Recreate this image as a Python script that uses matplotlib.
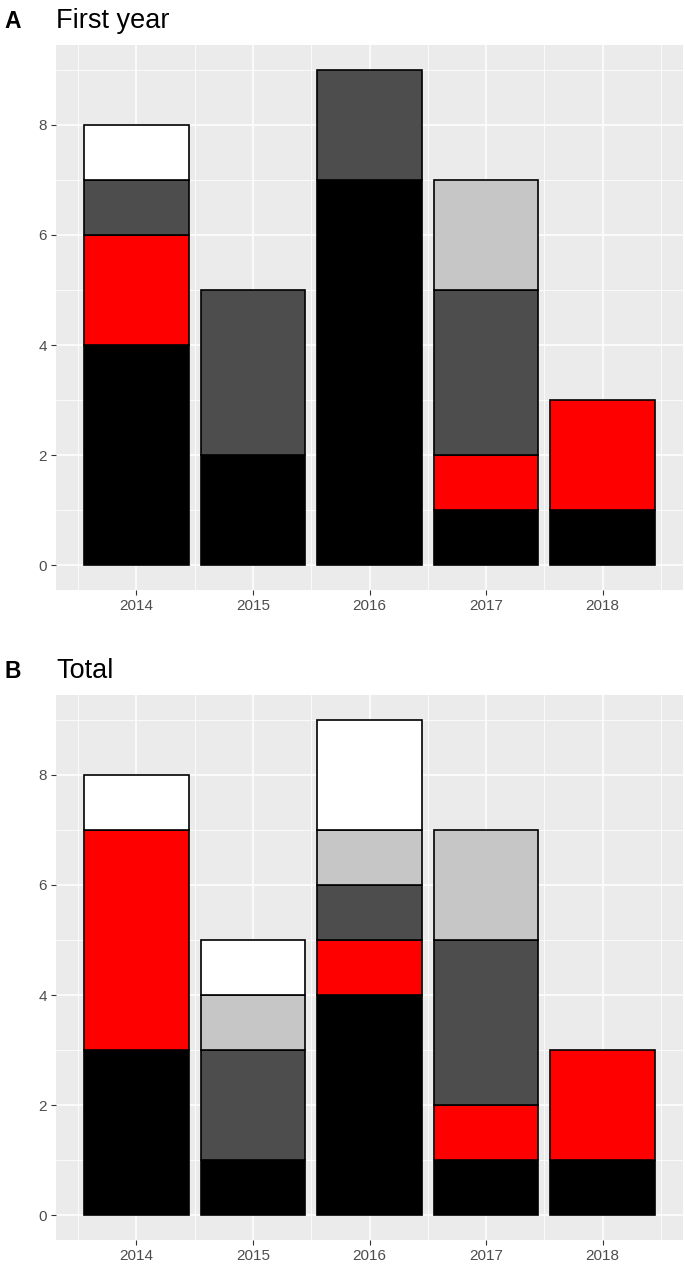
import matplotlib
matplotlib.use("Agg")
import matplotlib.pyplot as plt
import numpy as np

plt.rcParams['font.family'] = ['Liberation Sans', 'DejaVu Sans']

years = ["2014", "2015", "2016", "2017", "2018"]
categories = ["black", "red", "darkgray", "lightgray", "white"]
colors = ["#000000", "#FF0000", "#4D4D4D", "#C6C6C6", "#FFFFFF"]

# Panel A: First year (stacked from bottom)
a_black = [4, 2, 7, 1, 1]
a_red = [2, 0, 0, 1, 2]
a_dark = [1, 3, 2, 3, 0]
a_light = [0, 0, 0, 2, 0]
a_white = [1, 0, 0, 0, 0]

# Panel B: Total
b_black = [3, 1, 4, 1, 1]
b_red = [4, 0, 1, 1, 2]
b_dark = [0, 2, 1, 3, 0]
b_light = [0, 1, 1, 2, 0]
b_white = [1, 1, 2, 0, 0]

panels = [
    ("A", "First year", [a_black, a_red, a_dark, a_light, a_white]),
    ("B", "Total", [b_black, b_red, b_dark, b_light, b_white]),
]

W, H = 685, 1265
fig = plt.figure(figsize=(W / 100, H / 100), dpi=100)

boxes = [
    (56, 45, 683, 590),
    (56, 695, 683, 1240),
]

for (letter, title, series), (l, t, r, b) in zip(panels, boxes):
    ax = fig.add_axes([l / W, 1 - b / H, (r - l) / W, (b - t) / H])
    ax.set_facecolor("#EBEBEB")
    x = np.arange(len(years))
    bottom = np.zeros(len(years))
    for vals, col in zip(series, colors):
        vals = np.array(vals, dtype=float)
        mask = vals > 0
        ax.bar(x[mask], vals[mask], bottom=bottom[mask], width=0.9,
               color=col, edgecolor="black", linewidth=1.2, zorder=3)
        bottom += vals
    ax.set_xlim(-0.69, len(years) - 1 + 0.69)
    ax.set_ylim(-0.45, 9.45)
    ax.set_xticks(x)
    ax.set_xticklabels(years)
    ax.set_yticks([0, 2, 4, 6, 8])
    ax.set_xticks(np.arange(-0.5, len(years), 1.0), minor=True)
    ax.set_yticks([1, 3, 5, 7, 9], minor=True)
    ax.grid(which="major", color="white", linewidth=1.1, zorder=0)
    ax.grid(which="minor", color="white", linewidth=0.55, zorder=0)
    ax.set_axisbelow(True)
    for s in ax.spines.values():
        s.set_visible(False)
    ax.tick_params(which="major", length=3.5, width=0.8, color="#333333",
                   labelcolor="#4D4D4D", labelsize=11, pad=3)
    ax.tick_params(which="minor", length=0)
    fig.text(4 / W, 1 - (t - 24) / H, letter, fontsize=16.5, fontweight="bold",
             ha="left", va="center", color="black")
    fig.text(56 / W, 1 - (t - 24) / H, title, fontsize=19.5,
             ha="left", va="center", color="black")

fig.savefig("out.png", dpi=100)
